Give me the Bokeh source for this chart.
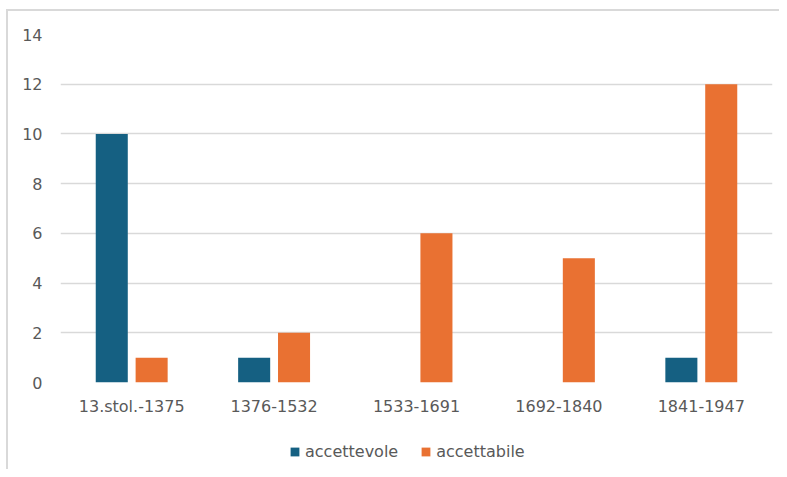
from bokeh.plotting import figure
from bokeh.layouts import column
from bokeh.models import FactorRange, Range1d, Legend, LegendItem, ColumnDataSource, FixedTicker
from bokeh.transform import dodge
from bokeh.embed import file_html
from bokeh.resources import INLINE

categories = ["13.stol.-1375", "1376-1532", "1533-1691", "1692-1840", "1841-1947"]
accettevole = [10, 1, 0, 0, 1]
accettabile = [1, 2, 6, 5, 12]
y_ticks = [0, 2, 4, 6, 8, 10, 12, 14]
series_names = ["accettevole", "accettabile"]
series_colors = ["#156082", "#E97132"]

FONT = "DejaVu Sans"
TXT = "#595959"
GRID = "#d9d9d9"

src = ColumnDataSource(dict(cat=categories, a=accettevole, b=accettabile))
xr = FactorRange(*categories, range_padding=0, factor_padding=0)

# ---- main chart ----
p = figure(x_range=xr, y_range=Range1d(0, 14),
           width=779, height=430, output_backend="svg", toolbar_location=None,
           min_border_left=60, min_border_right=7, min_border_top=34, min_border_bottom=48)

p.vbar(x=dodge("cat", -0.14, range=xr), top="a", width=0.225, source=src,
       fill_color=series_colors[0], line_color=None)
p.vbar(x=dodge("cat", 0.14, range=xr), top="b", width=0.225, source=src,
       fill_color=series_colors[1], line_color=None)

p.outline_line_color = None
p.xgrid.grid_line_color = None
p.ygrid.grid_line_color = GRID
p.ygrid.grid_line_width = 1.5
p.yaxis.ticker = FixedTicker(ticks=y_ticks)
for ax in (p.xaxis, p.yaxis):
    ax.axis_line_color = None
    ax.major_tick_line_color = None
    ax.minor_tick_line_color = None
    ax.major_tick_out = 0
    ax.major_tick_in = 0
    ax.major_label_text_font = FONT
    ax.major_label_text_font_size = "16px"
    ax.major_label_text_color = TXT
p.yaxis.major_label_standoff = 18
p.xaxis.major_label_standoff = 14

p.background_fill_alpha = 0
p.border_fill_alpha = 0
p.styles = {"background": f"linear-gradient({GRID}, {GRID}) 6px 9px / 2px 100% no-repeat, "
                          f"linear-gradient({GRID}, {GRID}) 6px 9px / 100% 2px no-repeat, white"}

# ---- legend strip below the chart (its zero-width bars lie outside its view; only the legend shows) ----
q = figure(x_range=xr, y_range=Range1d(-100, -61), width=779, height=39,
           output_backend="svg", toolbar_location=None,
           x_axis_location=None, y_axis_location=None,
           min_border_left=60, min_border_right=7, min_border_top=0, min_border_bottom=0)
q.grid.visible = False
q.outline_line_color = None
q.background_fill_alpha = 0
q.border_fill_alpha = 0
q.styles = {"background": f"linear-gradient({GRID}, {GRID}) 6px 0px / 2px 100% no-repeat, white"}

k1 = q.vbar(x=dodge("cat", -0.14, range=xr), top="a", width=0, source=src,
            fill_color=series_colors[0], line_color=None)
k2 = q.vbar(x=dodge("cat", 0.14, range=xr), top="b", width=0, source=src,
            fill_color=series_colors[1], line_color=None)

legend = Legend(items=[LegendItem(label=series_names[0], renderers=[k1]),
                       LegendItem(label=series_names[1], renderers=[k2])],
                location=(229, 8), orientation="horizontal",
                glyph_width=11, glyph_height=11, label_standoff=5, spacing=22,
                padding=0, margin=0, border_line_color=None, background_fill_alpha=0,
                label_text_font=FONT, label_text_font_size="16px", label_text_color=TXT)
q.add_layout(legend, "center")

layout = column(p, q, spacing=0)

open("out.html", "w").write(file_html(layout, INLINE))
